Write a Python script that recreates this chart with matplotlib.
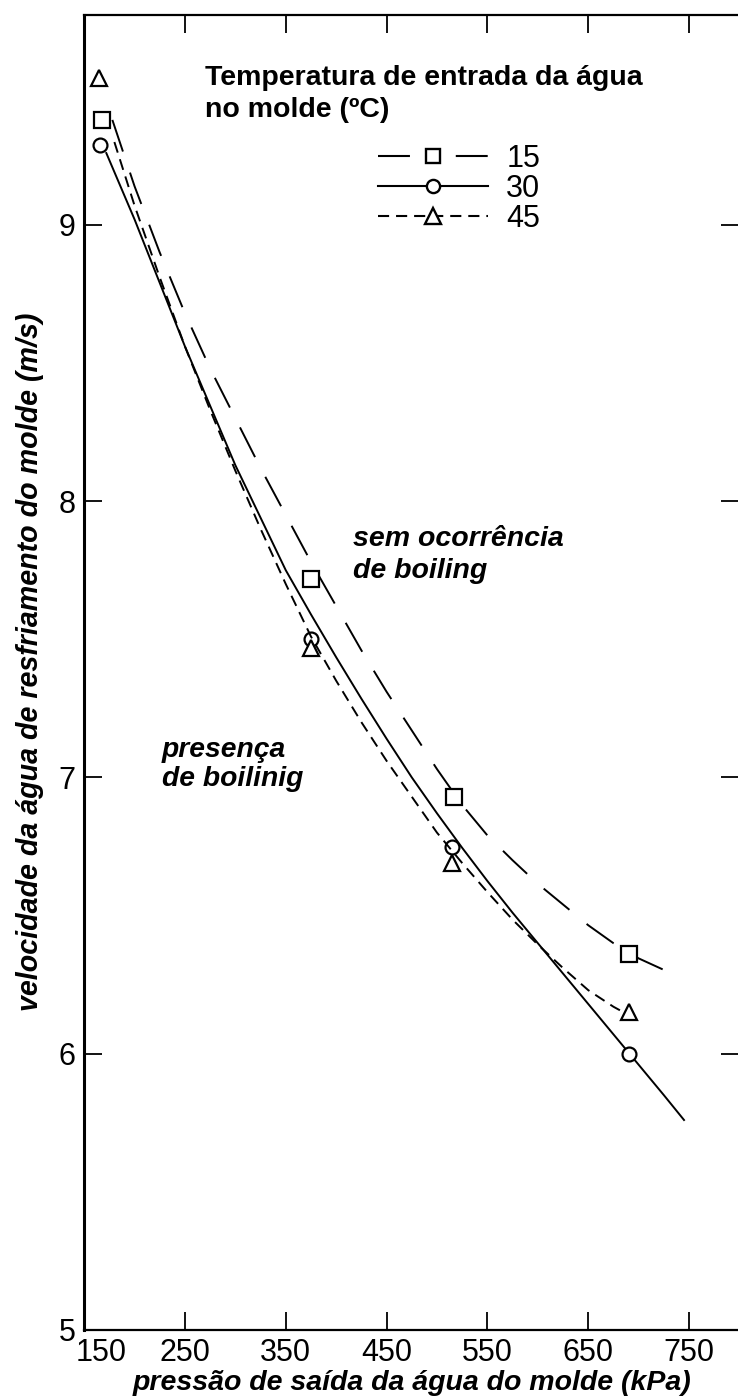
import matplotlib
matplotlib.use("Agg")
import matplotlib.pyplot as plt
import matplotlib.transforms as mtransforms
from matplotlib.lines import Line2D

plt.rcParams['font.family'] = ['Liberation Sans', 'DejaVu Sans']
plt.rcParams['lines.scale_dashes'] = False

# measured points (pressure kPa, velocity m/s)
p15 = [168, 375, 517, 690]
v15 = [9.38, 7.72, 6.93, 6.36]
p30 = [166, 375, 515, 690]
v30 = [9.29, 7.50, 6.75, 6.00]
p45 = [165, 375, 515, 690]
v45 = [9.53, 7.47, 6.69, 6.15]

# fitted curves
c15_p = [178, 200, 225, 250, 275, 300, 325, 350, 375, 400, 425, 450, 475, 500,
         525, 550, 575, 600, 625, 650, 675, 700, 730]
c15_v = [9.38, 9.14, 8.90, 8.68, 8.48, 8.30, 8.12, 7.95, 7.78, 7.62, 7.46, 7.31, 7.17, 7.03,
         6.90, 6.79, 6.70, 6.615, 6.54, 6.465, 6.40, 6.345, 6.295]
c30_p = [172, 200, 225, 250, 275, 300, 325, 350, 375, 400, 425, 450, 475, 500,
         525, 550, 575, 600, 625, 650, 675, 700, 725, 745]
c30_v = [9.26, 9.02, 8.79, 8.56, 8.345, 8.13, 7.94, 7.75, 7.59, 7.435, 7.285, 7.14, 7.00, 6.87,
         6.745, 6.625, 6.51, 6.40, 6.29, 6.18, 6.07, 5.96, 5.85, 5.76]
c45_p = [180, 200, 225, 250, 275, 300, 325, 350, 375, 400, 425, 450, 475, 500,
         525, 550, 575, 600, 625, 650, 675, 690]
c45_v = [9.30, 9.07, 8.81, 8.56, 8.33, 8.11, 7.90, 7.70, 7.51, 7.35, 7.20, 7.06, 6.93, 6.80,
         6.69, 6.585, 6.485, 6.395, 6.31, 6.23, 6.17, 6.14]

labels = ['15', '30', '45']
xticks = [150, 250, 350, 450, 550, 650, 750]
yticks = [5, 6, 7, 8, 9]

styles = [(0, (24, 16)), '-', (0, (8, 5))]
legend_styles = [(0, (23, 33)), '-', (0, (8, 5))]
markers = ['s', 'o', '^']
msizes = [11, 10, 12]

fig = plt.figure(figsize=(7.38, 13.96), dpi=100)
ax = fig.add_axes([0.114, 0.0473, 0.888, 0.942])

curves = [(c15_p, c15_v), (c30_p, c30_v), (c45_p, c45_v)]
points = [(p15, v15), (p30, v30), (p45, v45)]
handles = []
for (cp, cv), (pp, pv), ls, lls, mk, ms, lab in zip(curves, points, styles, legend_styles,
                                                    markers, msizes, labels):
    ax.plot(cp, cv, color='black', lw=1.4, linestyle=ls)
    ax.plot(pp, pv, linestyle='none', marker=mk, ms=ms, mfc='white',
            mec='black', mew=1.6)
    handles.append(Line2D([], [], color='black', lw=1.5, linestyle=lls, marker=mk,
                          ms=ms * 0.95, mfc='white', mec='black', mew=1.7, label=lab))

ax.set_xlim(150, 800)
ax.set_ylim(5, 9.76)
ax.set_xticks(xticks)
ax.set_yticks(yticks)
ax.tick_params(direction='in', top=True, right=True, length=13, width=1.3,
               labelsize=22, pad=6)
ax.tick_params(axis='x', pad=6)
for s in ax.spines.values():
    s.set_linewidth(1.6)
ax.spines['left'].set_linewidth(2.2)

# shift the first x label off the corner
lbl = ax.get_xticklabels()[0]
lbl.set_transform(lbl.get_transform() + mtransforms.ScaledTranslation(17 / 100, 0, fig.dpi_scale_trans))

ax.set_xlabel('pressão de saída da água do molde (kPa)', fontsize=20.5,
              fontweight='bold', fontstyle='italic', labelpad=1)
ax.set_ylabel('velocidade da água de resfriamento do molde (m/s)', fontsize=20.6,
              fontweight='bold', fontstyle='italic')
ax.yaxis.set_label_coords(-0.062, 0.508)

ax.text(0.185, 0.940, 'Temperatura de entrada da água\nno molde (ºC)', transform=ax.transAxes,
        fontsize=20.5, fontweight='bold', ha='left', va='center', linespacing=1.32)

ax.text(0.411, 0.589, 'sem ocorrência\nde boiling', transform=ax.transAxes,
        fontsize=20.5, fontweight='bold', fontstyle='italic', ha='left', va='center',
        linespacing=1.3)
ax.text(0.119, 0.43, 'presença\nde boilinig', transform=ax.transAxes,
        fontsize=20.3, fontweight='bold', fontstyle='italic', ha='left', va='center',
        linespacing=1.15)

ax.legend(handles=handles, loc='upper left', bbox_to_anchor=(378 / 738, 0.897),
          bbox_transform=fig.transFigure, frameon=False, fontsize=22,
          handlelength=3.6, handletextpad=0.6, labelspacing=0.0, borderpad=0,
          borderaxespad=0)

fig.savefig('out.png', dpi=100, facecolor='white')
